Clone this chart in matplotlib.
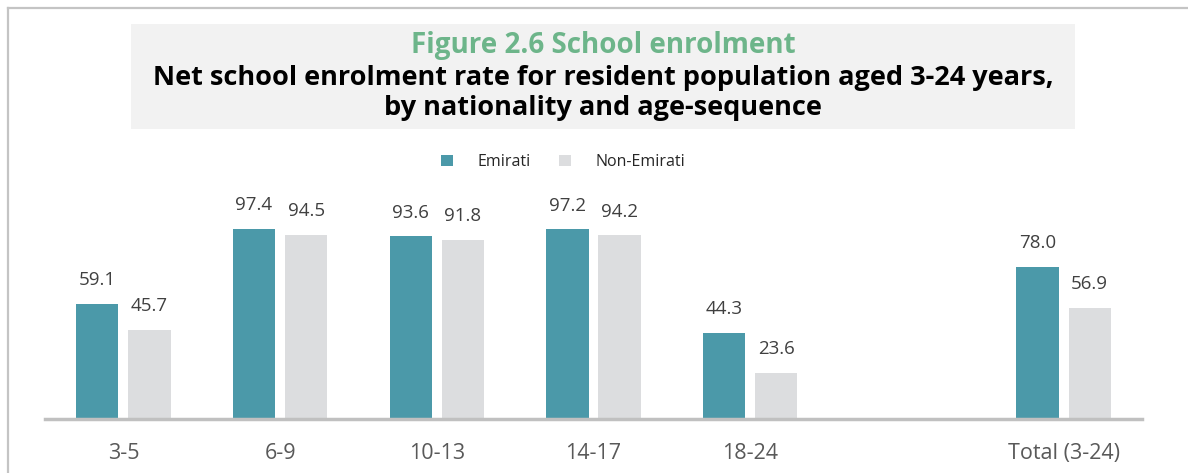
import numpy as np
import matplotlib.pyplot as plt
from matplotlib.patches import Rectangle
from matplotlib.lines import Line2D

categories  = ['3-5', '6-9', '10-13', '14-17', '18-24', '', 'Total (3-24)']
emirati     = [59.1, 97.4, 93.6, 97.2, 44.3, np.nan, 78.0]
non_emirati = [45.7, 94.5, 91.8, 94.2, 23.6, np.nan, 56.9]

TEAL  = '#4b99a9'
LGRAY = '#dcdddf'
GREEN = '#6db58a'

plt.rcParams['font.family'] = ['Open Sans', 'DejaVu Sans']

W, H = 1188, 473
fig = plt.figure(figsize=(W / 100, H / 100), dpi=100)

# frame lines (top and left)
fig.add_artist(Line2D([8 / W, 1], [1 - 8 / H, 1 - 8 / H], color='#c4c4c4', lw=1.6))
fig.add_artist(Line2D([8 / W, 8 / W], [0, 1 - 8 / H], color='#c4c4c4', lw=1.6))

# title box
fig.add_artist(Rectangle((131 / W, 1 - 129 / H), (1075 - 131) / W, (129 - 24) / H,
                         facecolor='#f2f2f2', edgecolor='none'))
fig.text(603 / W, 1 - 45 / H, 'Figure 2.6 School enrolment', ha='center', va='center',
         color=GREEN, fontsize=20, fontweight='bold')
fig.text(603 / W, 1 - 78 / H, 'Net school enrolment rate for resident population aged 3-24 years,',
         ha='center', va='center', color='black', fontsize=19.5, fontweight='bold')
fig.text(603 / W, 1 - 108 / H, 'by nationality and age-sequence',
         ha='center', va='center', color='black', fontsize=19.5, fontweight='bold')

# axes
ax_left, ax_right = 45 / W, 1142 / W
ax_bottom = (H - 419) / H
ymax = 110
ax_h = ymax * 1.95 / H
ax = fig.add_axes([ax_left, ax_bottom, ax_right - ax_left, ax_h])

x = np.arange(len(categories))
bw = 0.27
off = 0.166
b1 = ax.bar(x - off, emirati, bw, color=TEAL, label='Emirati')
b2 = ax.bar(x + off, non_emirati, bw, color=LGRAY, label='Non-Emirati')

for xs, vals in ((x - off, emirati), (x + off, non_emirati)):
    for xi, v in zip(xs, vals):
        if np.isnan(v):
            continue
        ax.text(xi, v + 7.5, f'{v:.1f}', ha='center', va='bottom', fontsize=13.5, color='#404040')

ax.set_xlim(-0.5, len(categories) - 0.5)
ax.set_ylim(0, ymax)
ax.set_xticks(x)
ax.set_xticklabels(categories, fontsize=15.5, color='#595959')
ax.tick_params(axis='x', length=0, pad=17)
ax.set_yticks([])
for s in ['top', 'right', 'left']:
    ax.spines[s].set_visible(False)
ax.spines['bottom'].set_color('#c0c0c0')
ax.spines['bottom'].set_linewidth(2.5)

fig.legend(handles=[b1, b2], loc='center', bbox_to_anchor=(563 / W, 1 - 162 / H),
           ncol=2, frameon=False, fontsize=11.5, handlelength=0.75, handleheight=0.75,
           columnspacing=1.8, handletextpad=1.5, labelcolor='#262626')

fig.savefig('out.png', dpi=100)
